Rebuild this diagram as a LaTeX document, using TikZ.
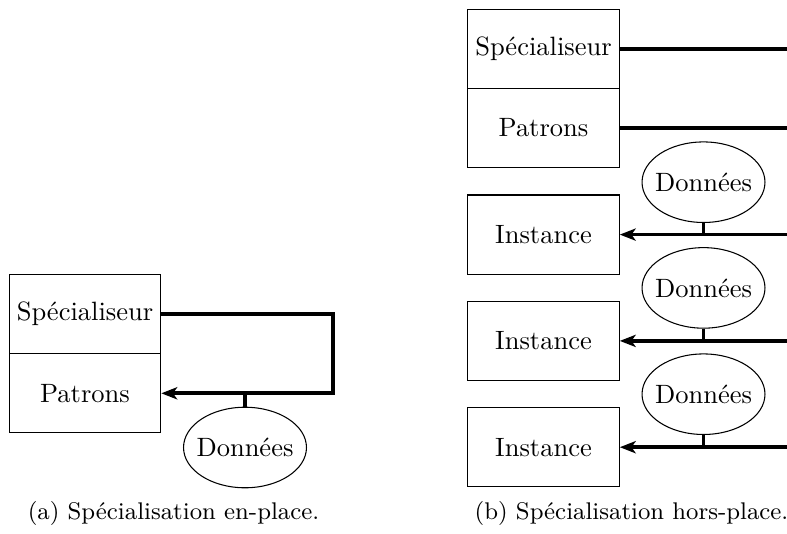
\documentclass[tikz,border=0pt]{standalone}
\usepackage{fontspec}
\usetikzlibrary{shapes.geometric,arrows.meta}
\begin{document}
\begin{tikzpicture}[x=0.3774pt,y=-0.3774pt,
  box/.style={draw,line width=0.4pt,inner sep=0pt,minimum width=57.2pt,minimum height=29.9pt,font=\fontsize{10}{12}\selectfont},
  ell/.style={draw,ellipse,line width=0.4pt,inner xsep=-1.9pt,inner ysep=0pt,minimum width=46.4pt,minimum height=30.4pt,font=\fontsize{10}{12}\selectfont},
  conn/.style={line width=1.4pt},
  arr/.style={conn,-{Stealth[length=6pt,width=4.6pt,inset=1.6pt]}},
  captext/.style={inner sep=0pt,font=\fontsize{9.1}{11}\selectfont}]
\useasboundingbox (0,0) rectangle (787,533);
% (a)
\node[box] (sa) at (85,313.7) {Spécialiseur};
\node[box] (pa) at (85,393.3) {Patrons};
\node[ell] (da) at (245,447.5) {Données};
\coordinate (ra) at (332.7,0);
\draw[arr] (sa.east) -- (ra |- sa.east) -- (ra |- pa.east) -- (pa.east);
\draw[conn] (da.north) -- (da.north |- pa.east);
\node[captext] (capa) at (173.5,513) {(a) Spécialisation en-place.};
% (b)
\coordinate (eb) at (787,0);
\node[box] (sb) at (543.5,48.7) {Spécialiseur};
\node[box] (pb) at (543.5,127.9) {Patrons};
\draw[conn] (sb.east) -- (eb |- sb.east);
\draw[conn] (pb.east) -- (eb |- pb.east);
\node[box] (i1) at (543.5,234.6) {Instance};
\node[box] (i2) at (543.5,340.9) {Instance};
\node[box] (i3) at (543.5,447.2) {Instance};
\node[ell] (d1) at (703.5,182.2) {Données};
\node[ell] (d2) at (703.5,287.9) {Données};
\node[ell] (d3) at (703.5,394.2) {Données};
\draw[arr] (eb |- i1.east) -- (i1.east);
\draw[arr] (eb |- i2.east) -- (i2.east);
\draw[arr] (eb |- i3.east) -- (i3.east);
\draw[conn] (d1.south) -- (d1.south |- i1.east);
\draw[conn] (d2.south) -- (d2.south |- i2.east);
\draw[conn] (d3.south) -- (d3.south |- i3.east);
\node[captext] (capb) at (631.5,513) {(b) Spécialisation hors-place.};
\end{tikzpicture}
\end{document}
